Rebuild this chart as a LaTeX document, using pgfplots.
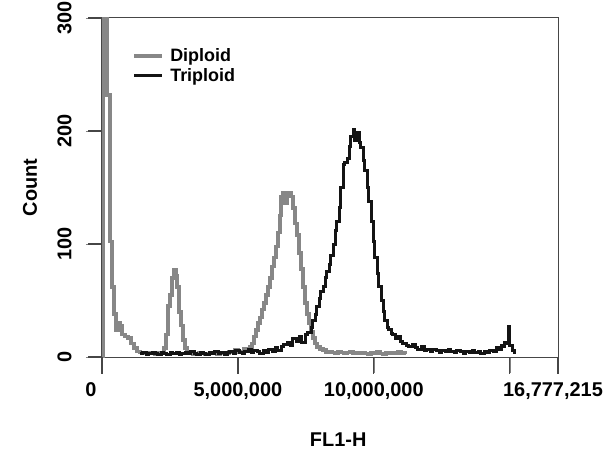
\documentclass[border=0pt]{standalone}
\usepackage{pgfplots}
\pgfplotsset{compat=1.18}
\usepackage{fontspec}
\setmainfont{Liberation Sans}

\definecolor{diploid}{RGB}{135,135,135}
\definecolor{triploid}{RGB}{20,20,20}
\definecolor{axisgray}{RGB}{70,70,70}

\begin{document}
\begin{tikzpicture}
\begin{axis}[
    name=ax,
    scale only axis,
    width=456bp, height=339bp,
    xmin=0, xmax=16.777215,
    ymin=0, ymax=300,
    axis line style={draw=axisgray, line width=1bp},
    xtick={0,5,10,15,16.777215},
    xticklabels={\makebox[0pt]{0\hspace{22bp}}, {5,000,000}, {10,000,000}, {}, \makebox[0pt]{16,777,215\hspace{10bp}}},
    ytick={0,100,200,300},
    yticklabels={0,100,200,300},
    xtick pos=left, ytick pos=left,
    tick align=outside,
    major tick length=16bp,
    /pgf/number format/assume math mode=true,
    every tick label/.append style={font=\fontsize{20}{22}\selectfont\bfseries},
    xticklabel style={yshift=-6bp},
    yticklabel style={xshift=-11bp, rotate=90, anchor=south},
    xlabel={FL1-H},
    ylabel={Count},
    every axis x label/.style={at={(axis description cs:0.518,-0.245)}, anchor=center,
        font=\fontsize{20}{22}\selectfont\bfseries},
    every axis y label/.style={at={(axis description cs:-0.158,0.5)}, rotate=90, anchor=center,
        font=\fontsize{20}{22}\selectfont\bfseries},
    legend style={at={(axis description cs:0.066,0.915)}, anchor=north west,
        draw=none, fill=none, inner sep=0pt, row sep=2.5bp,
        font=\fontsize{18}{19}\selectfont\bfseries,
        nodes={inner sep=1.5bp},
        /tikz/every odd column/.append style={column sep=5bp}},
    legend cell align=left,
    legend image code/.code={\draw[#1, line width=3.5bp] (0bp,0bp) -- (28bp,0bp);},
]

% diploid
\addplot[const plot, draw=diploid, line width=3.5bp] coordinates {
(0,0) (0.055,330) (0.184,232) (0.294,102) (0.368,62) (0.442,38) (0.515,24)
(0.589,30) (0.662,28) (0.736,20) (0.846,18) (0.957,17) (1.067,12) (1.177,8)
(1.288,5) (1.398,4) (1.508,3) (1.619,3) (1.729,4) (1.840,3) (1.950,2)
(2.060,4) (2.171,3) (2.281,8) (2.355,20) (2.428,45) (2.502,55) (2.575,70)
(2.649,77) (2.723,72) (2.759,62) (2.833,40) (2.907,28) (2.980,15) (3.054,8)
(3.127,4) (3.238,3) (3.348,2) (3.458,3) (3.569,4) (3.679,3) (3.790,2)
(3.900,3) (4.010,4) (4.121,3) (4.231,2) (4.341,3) (4.452,4) (4.562,3)
(4.673,5) (4.783,4) (4.893,6) (5.004,4) (5.114,5) (5.224,7) (5.335,6)
(5.445,9) (5.519,12) (5.592,18) (5.666,24) (5.740,30) (5.813,35) (5.887,42)
(5.960,48) (6.034,55) (6.107,62) (6.181,70) (6.255,80) (6.328,88) (6.402,98)
(6.475,110) (6.549,125) (6.586,142) (6.659,145) (6.733,136) (6.807,143)
(6.880,145) (6.954,142) (7.027,132) (7.101,118) (7.174,108) (7.248,92)
(7.322,78) (7.395,62) (7.469,48) (7.542,38) (7.616,30) (7.690,22) (7.763,17)
(7.837,12) (7.910,9) (8.021,7) (8.131,6) (8.241,4) (8.352,5) (8.462,4)
(8.573,3) (8.683,5) (8.793,4) (8.904,3) (9.014,4) (9.124,5) (9.235,3)
(9.345,4) (9.456,3) (9.566,4) (9.676,3) (9.787,2) (9.897,4) (10.007,3)
(10.118,5) (10.228,3) (10.339,2) (10.449,4) (10.559,3) (10.670,4) (10.780,3)
(10.890,5) (11.001,3) (11.111,4) (11.222,4)
};
\addlegendentry{Diploid}

% triploid
\addplot[const plot, draw=triploid, line width=3bp] coordinates {
(1.398,3) (1.508,4) (1.619,2) (1.729,3) (1.840,4) (1.950,3) (2.060,2)
(2.171,4) (2.281,3) (2.391,2) (2.502,4) (2.612,3) (2.723,4) (2.833,2)
(2.943,3) (3.054,4) (3.164,3) (3.274,5) (3.385,3) (3.495,2) (3.606,4)
(3.716,3) (3.826,2) (3.937,4) (4.047,3) (4.157,5) (4.268,3) (4.378,4)
(4.489,2) (4.599,4) (4.709,5) (4.820,3) (4.930,6) (5.041,4) (5.151,3)
(5.261,5) (5.372,7) (5.482,4) (5.592,6) (5.703,5) (5.813,3) (5.924,6)
(6.034,4) (6.144,7) (6.255,5) (6.365,8) (6.475,6) (6.586,9) (6.696,11)
(6.807,13) (6.917,10) (7.027,16) (7.138,14) (7.248,18) (7.358,13) (7.469,20)
(7.579,22) (7.690,26) (7.763,32) (7.837,38) (7.910,45) (7.984,52) (8.057,58)
(8.131,62) (8.205,70) (8.278,76) (8.352,82) (8.425,90) (8.499,100) (8.573,112)
(8.646,120) (8.720,132) (8.793,150) (8.867,170) (8.940,172) (9.014,176)
(9.088,186) (9.161,195) (9.235,201) (9.308,192) (9.382,199) (9.456,190)
(9.529,185) (9.603,174) (9.676,165) (9.750,150) (9.823,138) (9.897,120)
(9.971,102) (10.044,88) (10.118,74) (10.191,62) (10.265,50) (10.339,40)
(10.412,32) (10.486,26) (10.559,24) (10.633,21) (10.706,20) (10.780,16)
(10.854,18) (10.964,14) (11.074,12) (11.185,10) (11.295,9) (11.406,11)
(11.516,8) (11.626,7) (11.737,9) (11.847,6) (11.957,7) (12.068,5) (12.178,7)
(12.289,6) (12.399,4) (12.509,6) (12.620,5) (12.730,7) (12.840,5) (12.951,4)
(13.061,6) (13.172,5) (13.282,3) (13.392,5) (13.503,4) (13.613,6) (13.723,4)
(13.834,5) (13.944,3) (14.055,5) (14.165,4) (14.275,6) (14.386,5) (14.496,8)
(14.606,7) (14.680,10) (14.754,9) (14.827,13) (14.901,12) (14.938,27)
(14.975,18) (15.011,10) (15.085,6) (15.159,3)
};
\addlegendentry{Triploid}

\coordinate (tx0) at (axis cs:0,0);
\coordinate (tx1) at (axis cs:5,0);
\coordinate (tx2) at (axis cs:10,0);
\coordinate (tx3) at (axis cs:15,0);
\coordinate (tx4) at (axis cs:16.777215,0);
\coordinate (ty1) at (axis cs:0,100);
\coordinate (ty2) at (axis cs:0,200);
\coordinate (ty3) at (axis cs:0,300);
\end{axis}
% tick marks, drawn outside the clipped axis area
\foreach \c in {tx0,tx1,tx2,tx3,tx4}
    \draw[axisgray, line width=1.3bp] (\c) -- ++(0,-17bp);
\foreach \c in {tx0,ty1,ty2,ty3}
    \draw[axisgray, line width=1.3bp] (\c) -- ++(-14bp,0);
\pgfresetboundingbox
\path (ax.south west) ++(-102bp,-95bp) rectangle ++(614bp,452bp);
\end{tikzpicture}
\end{document}
